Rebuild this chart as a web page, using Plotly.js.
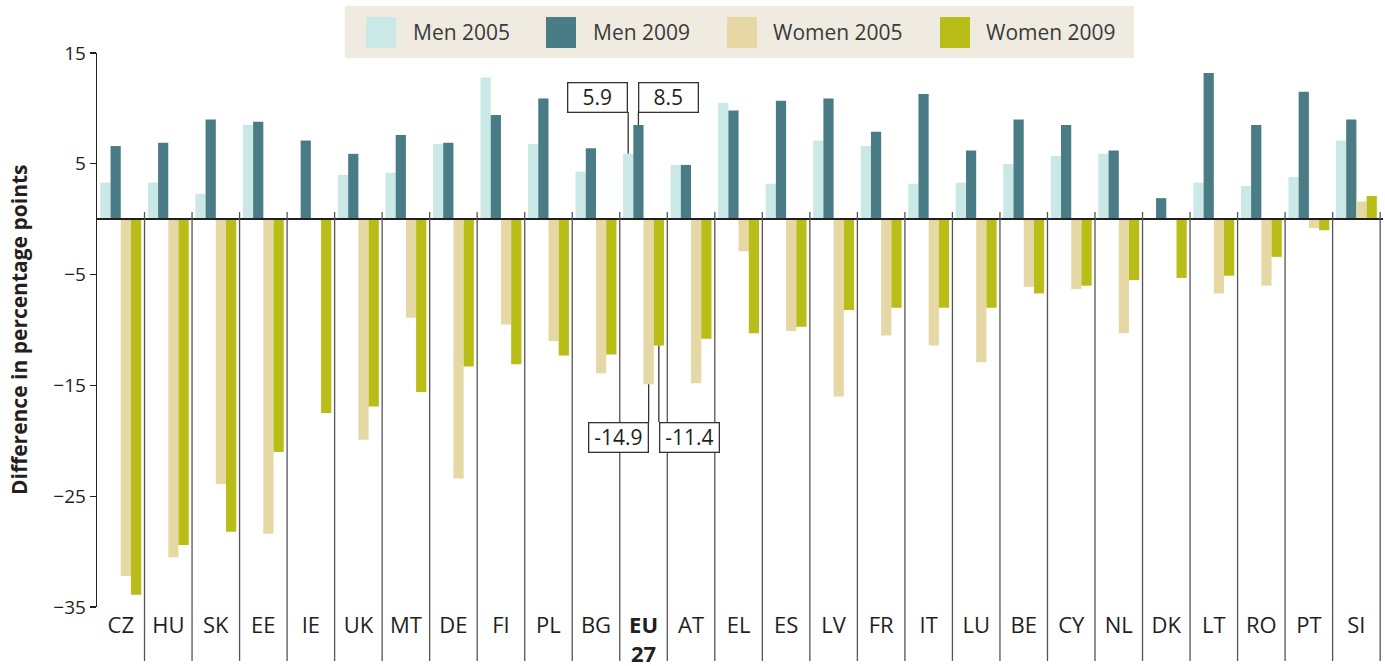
<!DOCTYPE html>
<html>
<head>
<meta charset="utf-8">
<script src="https://cdn.plot.ly/plotly-3.0.1.min.js"></script>
<style>
html,body{margin:0;padding:0;background:#fff;}
#chart{width:1385px;height:666px;}
</style>
</head>
<body>
<div id="chart"></div>
<script>
// ---- data ----
const countries = ['CZ','HU','SK','EE','IE','UK','MT','DE','FI','PL','BG','EU 27','AT','EL','ES','LV','FR','IT','LU','BE','CY','NL','DK','LT','RO','PT','SI'];
const tickLabels = ['CZ','HU','SK','EE','IE','UK','MT','DE','FI','PL','BG','<b>EU<br>27</b>','AT','EL','ES','LV','FR','IT','LU','BE','CY','NL','DK','LT','RO','PT','SI'];
const seriesNames = ['Men 2005','Men 2009','Women 2005','Women 2009'];
const men2005   = [3.3, 3.3, 2.3, 8.5, null, 4.0, 4.2, 6.8, 12.8, 6.8, 4.3, 5.9, 4.9, 10.5, 3.2, 7.1, 6.6, 3.2, 3.3, 5.0, 5.7, 5.9, null, 3.3, 3.0, 3.8, 7.1];
const men2009   = [6.6, 6.9, 9.0, 8.8, 7.1, 5.9, 7.6, 6.9, 9.4, 10.9, 6.4, 8.5, 4.9, 9.8, 10.7, 10.9, 7.9, 11.3, 6.2, 9.0, 8.5, 6.2, 1.9, 13.2, 8.5, 11.5, 9.0];
const women2005 = [-32.2, -30.5, -23.9, -28.4, null, -19.9, -8.9, -23.4, -9.5, -11.0, -13.9, -14.9, -14.8, -2.9, -10.1, -16.0, -10.5, -11.4, -12.9, -6.1, -6.3, -10.3, null, -6.7, -6.0, -0.8, 1.6];
const women2009 = [-33.9, -29.4, -28.2, -21.0, -17.5, -16.9, -15.6, -13.3, -13.1, -12.3, -12.2, -11.4, -10.8, -10.3, -9.7, -8.2, -8.0, -8.0, -8.0, -6.7, -6.0, -5.5, -5.3, -5.1, -3.4, -1.0, 2.1];
const yTicks = [-35, -25, -15, -5, 5, 15];
const yTitle = 'Difference in percentage points';
const highlight = 'EU 27';

// ---- style ----
const series = [men2005, men2009, women2005, women2009];
const colors = ['#c9e8e6', '#4a7c85', '#e6d8a5', '#b9bd17'];
const FONT = 'Open Sans, Liberation Sans, sans-serif';
const TXT = '#231f20';
const M = {l: 97, r: 2, t: 53, b: 59};
const FW = 1385, FH = 666;
const W = FW - M.l - M.r, H = FH - M.t - M.b;
const YR = [-35, 15];
const XR = [-0.5, countries.length - 0.44];
const px = x => (x - M.l) / W;                 // pixel -> paper x
const py = y => (FH - M.b - y) / H;            // pixel -> paper y
const pyData = y => YR[1] - (y - M.t) / H * (YR[1] - YR[0]); // pixel -> data y

const BARGAP = 0.14;
const barW = (1 - BARGAP) / series.length;
const slot = i => (i - (series.length - 1) / 2) * barW;

const traces = series.map((vals, i) => ({
  type: 'bar',
  x: countries,
  y: vals,
  name: seriesNames[i],
  marker: {color: colors[i], line: {width: 0}},
  hoverinfo: 'skip'
}));

const shapes = [];
const annotations = [];

// category separators
for (let k = 0; k < countries.length; k++) {
  shapes.push({type: 'line', xref: 'x', yref: 'paper', x0: k + 0.5, x1: k + 0.5,
    y0: py(212), y1: py(661), line: {color: '#555', width: 1.3}, layer: 'above'});
}

// custom legend
shapes.push({type: 'rect', xref: 'paper', yref: 'paper', x0: px(345), x1: px(1134), y0: py(58), y1: py(6),
  fillcolor: '#efebe0', line: {width: 0}});
const legSw = [366, 546, 727, 940];
const legTx = [411, 591, 771, 984];
seriesNames.forEach((n, i) => {
  shapes.push({type: 'rect', xref: 'paper', yref: 'paper', x0: px(legSw[i]), x1: px(legSw[i] + 30),
    y0: py(48), y1: py(17), fillcolor: colors[i], line: {width: 0}});
  annotations.push({xref: 'paper', yref: 'paper', x: px(legTx[i]), y: py(32.5), xanchor: 'left', yanchor: 'middle',
    text: n, showarrow: false, font: {family: FONT, size: 21, color: '#3a3a3a'}});
});

// EU 27 value call-outs
const eu = countries.indexOf(highlight);
const callouts = [
  {s: 0, v: men2005[eu],   anchor: 'right', boxTop: 82,  boxBot: 112},
  {s: 1, v: men2009[eu],   anchor: 'left',  boxTop: 82,  boxBot: 112},
  {s: 2, v: women2005[eu], anchor: 'right', boxTop: 422, boxBot: 452},
  {s: 3, v: women2009[eu], anchor: 'left',  boxTop: 422, boxBot: 452}
];
callouts.forEach(c => {
  const xx = eu + slot(c.s);
  const edge = c.v >= 0 ? c.boxBot : c.boxTop;
  shapes.push({type: 'line', xref: 'x', yref: 'y', x0: xx, x1: xx, y0: c.v, y1: pyData(edge),
    line: {color: '#333', width: 1.3}, layer: 'above'});
  annotations.push({xref: 'x', yref: 'y', x: xx, y: pyData((c.boxTop + c.boxBot) / 2),
    xanchor: c.anchor, yanchor: 'middle', text: c.v.toFixed(1), showarrow: false,
    width: 54, height: 24, borderpad: 2, borderwidth: 1.3, bordercolor: '#333', bgcolor: '#fff',
    font: {family: FONT, size: 21, color: TXT}});
});

// y-axis title
annotations.push({xref: 'paper', yref: 'paper', x: px(19), y: 0.5, xanchor: 'center', yanchor: 'middle',
  textangle: -90, text: yTitle, showarrow: false,
  font: {family: FONT, size: 21, color: TXT, weight: 'bold'}});

const layout = {
  width: FW, height: FH,
  margin: M,
  paper_bgcolor: '#fff', plot_bgcolor: '#fff',
  barmode: 'group', bargap: BARGAP, bargroupgap: 0,
  showlegend: false,
  font: {family: FONT, color: TXT},
  xaxis: {
    type: 'category', range: XR, tickmode: 'array', tickvals: countries, ticktext: tickLabels,
    showgrid: false, showline: false, ticks: '', zeroline: false,
    tickfont: {family: FONT, size: 22, color: TXT}, ticklabelstandoff: 3
  },
  yaxis: {
    range: YR, tickmode: 'array', tickvals: yTicks, showgrid: false,
    showline: true, linecolor: TXT, linewidth: 1.3,
    ticks: 'outside', ticklen: 6, tickwidth: 1.2, tickcolor: TXT,
    zeroline: true, zerolinecolor: TXT, zerolinewidth: 1.6, zerolinelayer: 'above traces',
    tickfont: {family: FONT, size: 19, color: TXT}, ticklabelstandoff: 0
  },
  shapes: shapes,
  annotations: annotations
};

Plotly.newPlot('chart', traces, layout, {staticPlot: true, displayModeBar: false});
</script>
</body>
</html>
